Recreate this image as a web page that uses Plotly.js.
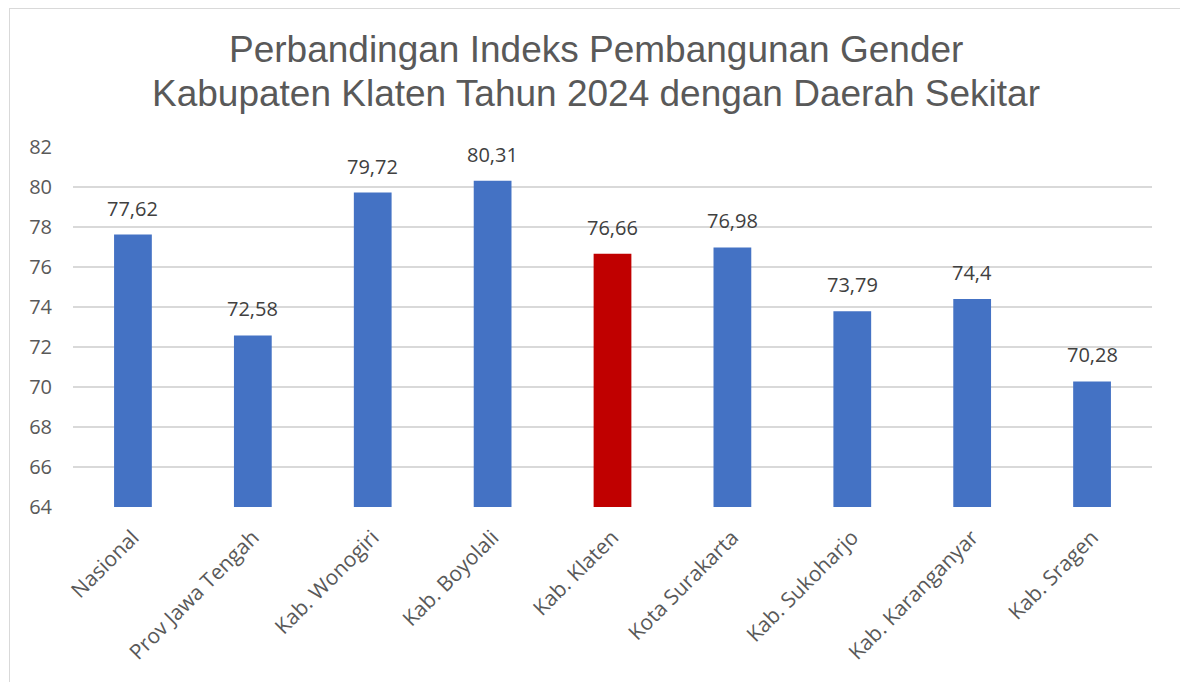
<!DOCTYPE html>
<html>
<head>
<meta charset="utf-8">
<script src="https://cdn.plot.ly/plotly-3.0.1.min.js"></script>
<style>
html,body{margin:0;padding:0;background:#fff;}
#wrap{position:relative;width:1180px;height:682px;overflow:hidden;}
#frame{position:absolute;left:9px;top:8px;width:1200px;height:700px;border-left:1.5px solid #d9d9d9;border-top:1.5px solid #d9d9d9;pointer-events:none;z-index:2;}
#chart{position:absolute;left:0;top:0;width:1180px;height:682px;}
</style>
</head>
<body>
<div id="wrap"><div id="chart"></div><div id="frame"></div></div>
<script>
const categories = ["Nasional","Prov Jawa Tengah","Kab. Wonogiri","Kab. Boyolali","Kab. Klaten","Kota Surakarta","Kab. Sukoharjo","Kab. Karanganyar","Kab. Sragen"];
const values = [77.62, 72.58, 79.72, 80.31, 76.66, 76.98, 73.79, 74.4, 70.28];
const highlight = "Kab. Klaten";
const tickValues = [64,66,68,70,72,74,76,78,80,82];
const titleLines = ["Perbandingan Indeks Pembangunan Gender", "Kabupaten Klaten Tahun 2024 dengan Daerah Sekitar"];

const axisFloor = 64;
const colors = categories.map(c => c === highlight ? "#C00000" : "#4472C4");
const labelFont = "'Open Sans', 'Noto Sans', sans-serif";
const titleFont = {family: "'Liberation Sans', Arial, sans-serif", size: 37, color: "#595959"};

const annotations = categories.map((c,i) => ({
  x: c, y: values[i], xref: "x", yref: "y",
  text: String(values[i]).replace(".", ","),
  showarrow: false, yanchor: "bottom", yshift: 11,
  font: {family: labelFont, size: 20, color: "#404040"}
}));
annotations.push({xref: "paper", yref: "paper", x: 0.4845, y: 1.272, xanchor: "center", yanchor: "middle",
  text: titleLines[0], showarrow: false, font: titleFont});
annotations.push({xref: "paper", yref: "paper", x: 0.4845, y: 1.150, xanchor: "center", yanchor: "middle",
  text: titleLines[1], showarrow: false, font: titleFont});

const trace = {
  type: "bar", x: categories,
  y: values.map(v => v - axisFloor),
  base: axisFloor,
  marker: {color: colors},
  hoverinfo: "skip"
};

const layout = {
  width: 1180, height: 682,
  margin: {l: 73, r: 28, t: 147, b: 175},
  paper_bgcolor: "#ffffff", plot_bgcolor: "#ffffff",
  showlegend: false,
  bargap: 0.685,
  xaxis: {
    type: "category", tickangle: -45,
    tickfont: {family: labelFont, size: 21, color: "#595959"},
    showgrid: false, zeroline: false, showline: false, ticks: "",
    ticklabelstandoff: 13, fixedrange: true
  },
  yaxis: {
    range: [64, 82], tickvals: tickValues, ticktext: tickValues.map(String),
    tickfont: {family: labelFont, size: 20, color: "#595959"},
    showgrid: true, gridcolor: "#d9d9d9", gridwidth: 1.5,
    zeroline: false, showline: false, ticks: "",
    ticklabelstandoff: 20, fixedrange: true
  },
  annotations: annotations
};

Plotly.newPlot("chart", [trace], layout, {displayModeBar: false, staticPlot: true});
</script>
</body>
</html>
